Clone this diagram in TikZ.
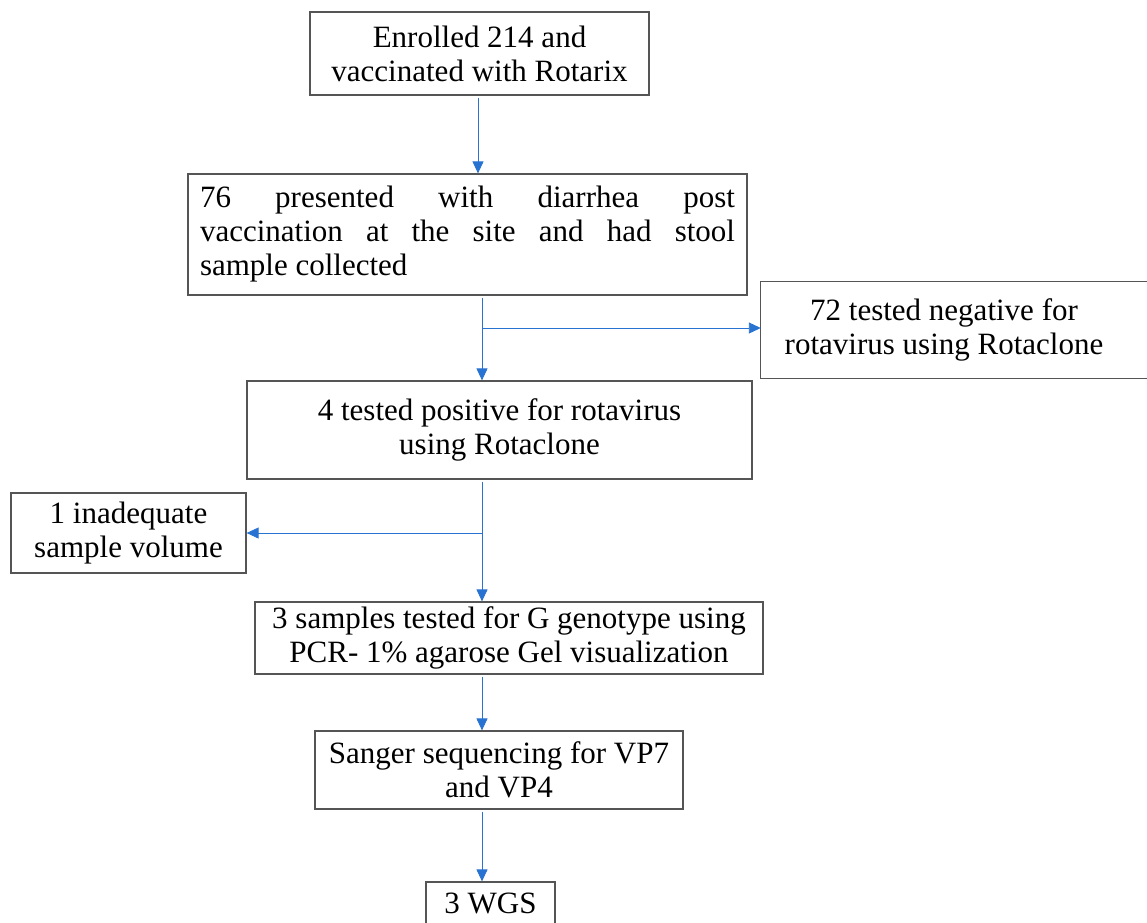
\documentclass[tikz,border=0pt]{standalone}
\usepackage{fontspec}
\setmainfont{Liberation Serif}
\usetikzlibrary{arrows.meta}
\definecolor{arrblue}{RGB}{40,115,210}
\definecolor{boxgray}{RGB}{85,85,85}
\tikzset{
  boxfont/.style={font=\fontsize{31}{34}\selectfont},
  box/.style={draw=boxgray, line width=1.2pt, inner sep=0pt, align=center, boxfont},
  arr/.style={draw=arrblue, line width=0.9pt, shorten <=2pt,
    -{Triangle[length=12pt,width=11pt,fill=arrblue]}},
}
\begin{document}
\begin{tikzpicture}[x=1pt,y=-1pt]
\useasboundingbox (0,0) rectangle (1147,922);
\node[box, minimum width=339pt, minimum height=83pt] (b1) at (479.5,53.5)
  {Enrolled 214 and\\vaccinated with Rotarix};
\node[box, minimum width=559pt, minimum height=121pt, text width=535pt, align=justify] (b2) at (467.5,234.5)
  {76 presented with diarrhea post\linebreak vaccination at the site and had stool\linebreak sample collected};
\node[boxfont, align=center, inner sep=0pt, minimum width=366pt, minimum height=96pt] (b3) at (944,330)
  {72 tested negative for\\rotavirus using Rotaclone};
\draw[draw=boxgray, line width=1.2pt] (b3.south west) rectangle ([xshift=60pt]b3.north east);
\node[box, minimum width=505pt, minimum height=98pt] (b4) at (499.5,430)
  {4 tested positive for rotavirus\\using Rotaclone};
\node[box, minimum width=235pt, minimum height=80pt] (b5) at (128.5,533)
  {1 inadequate\\sample volume};
\node[box, minimum width=508pt, minimum height=72pt] (b6) at (509,638)
  {3 samples tested for G genotype using\\PCR- 1\% agarose Gel visualization};
\node[box, minimum width=368pt, minimum height=78pt] (b7) at (499,770)
  {Sanger sequencing for VP7\\and VP4};
\node[box, minimum width=129pt, minimum height=43pt] (b8) at (490.5,903.5)
  {3 WGS};
\coordinate (j1) at (482,328);
\coordinate (j2) at (482,533);
\draw[arr] (b1.south -| 478,0) -- (b2.north -| 478,0);
\draw[arr] (j1 |- b2.south) -- (j1 |- b4.north);
\draw[arr, shorten <=0pt] (j1) -- (j1 -| b3.west);
\draw[arr] (j2 |- b4.south) -- (j2 |- b6.north);
\draw[arr, shorten <=0pt] (j2) -- (j2 -| b5.east);
\draw[arr] (j2 |- b6.south) -- (j2 |- b7.north);
\draw[arr] (j2 |- b7.south) -- (j2 |- b8.north);
\end{tikzpicture}
\end{document}
